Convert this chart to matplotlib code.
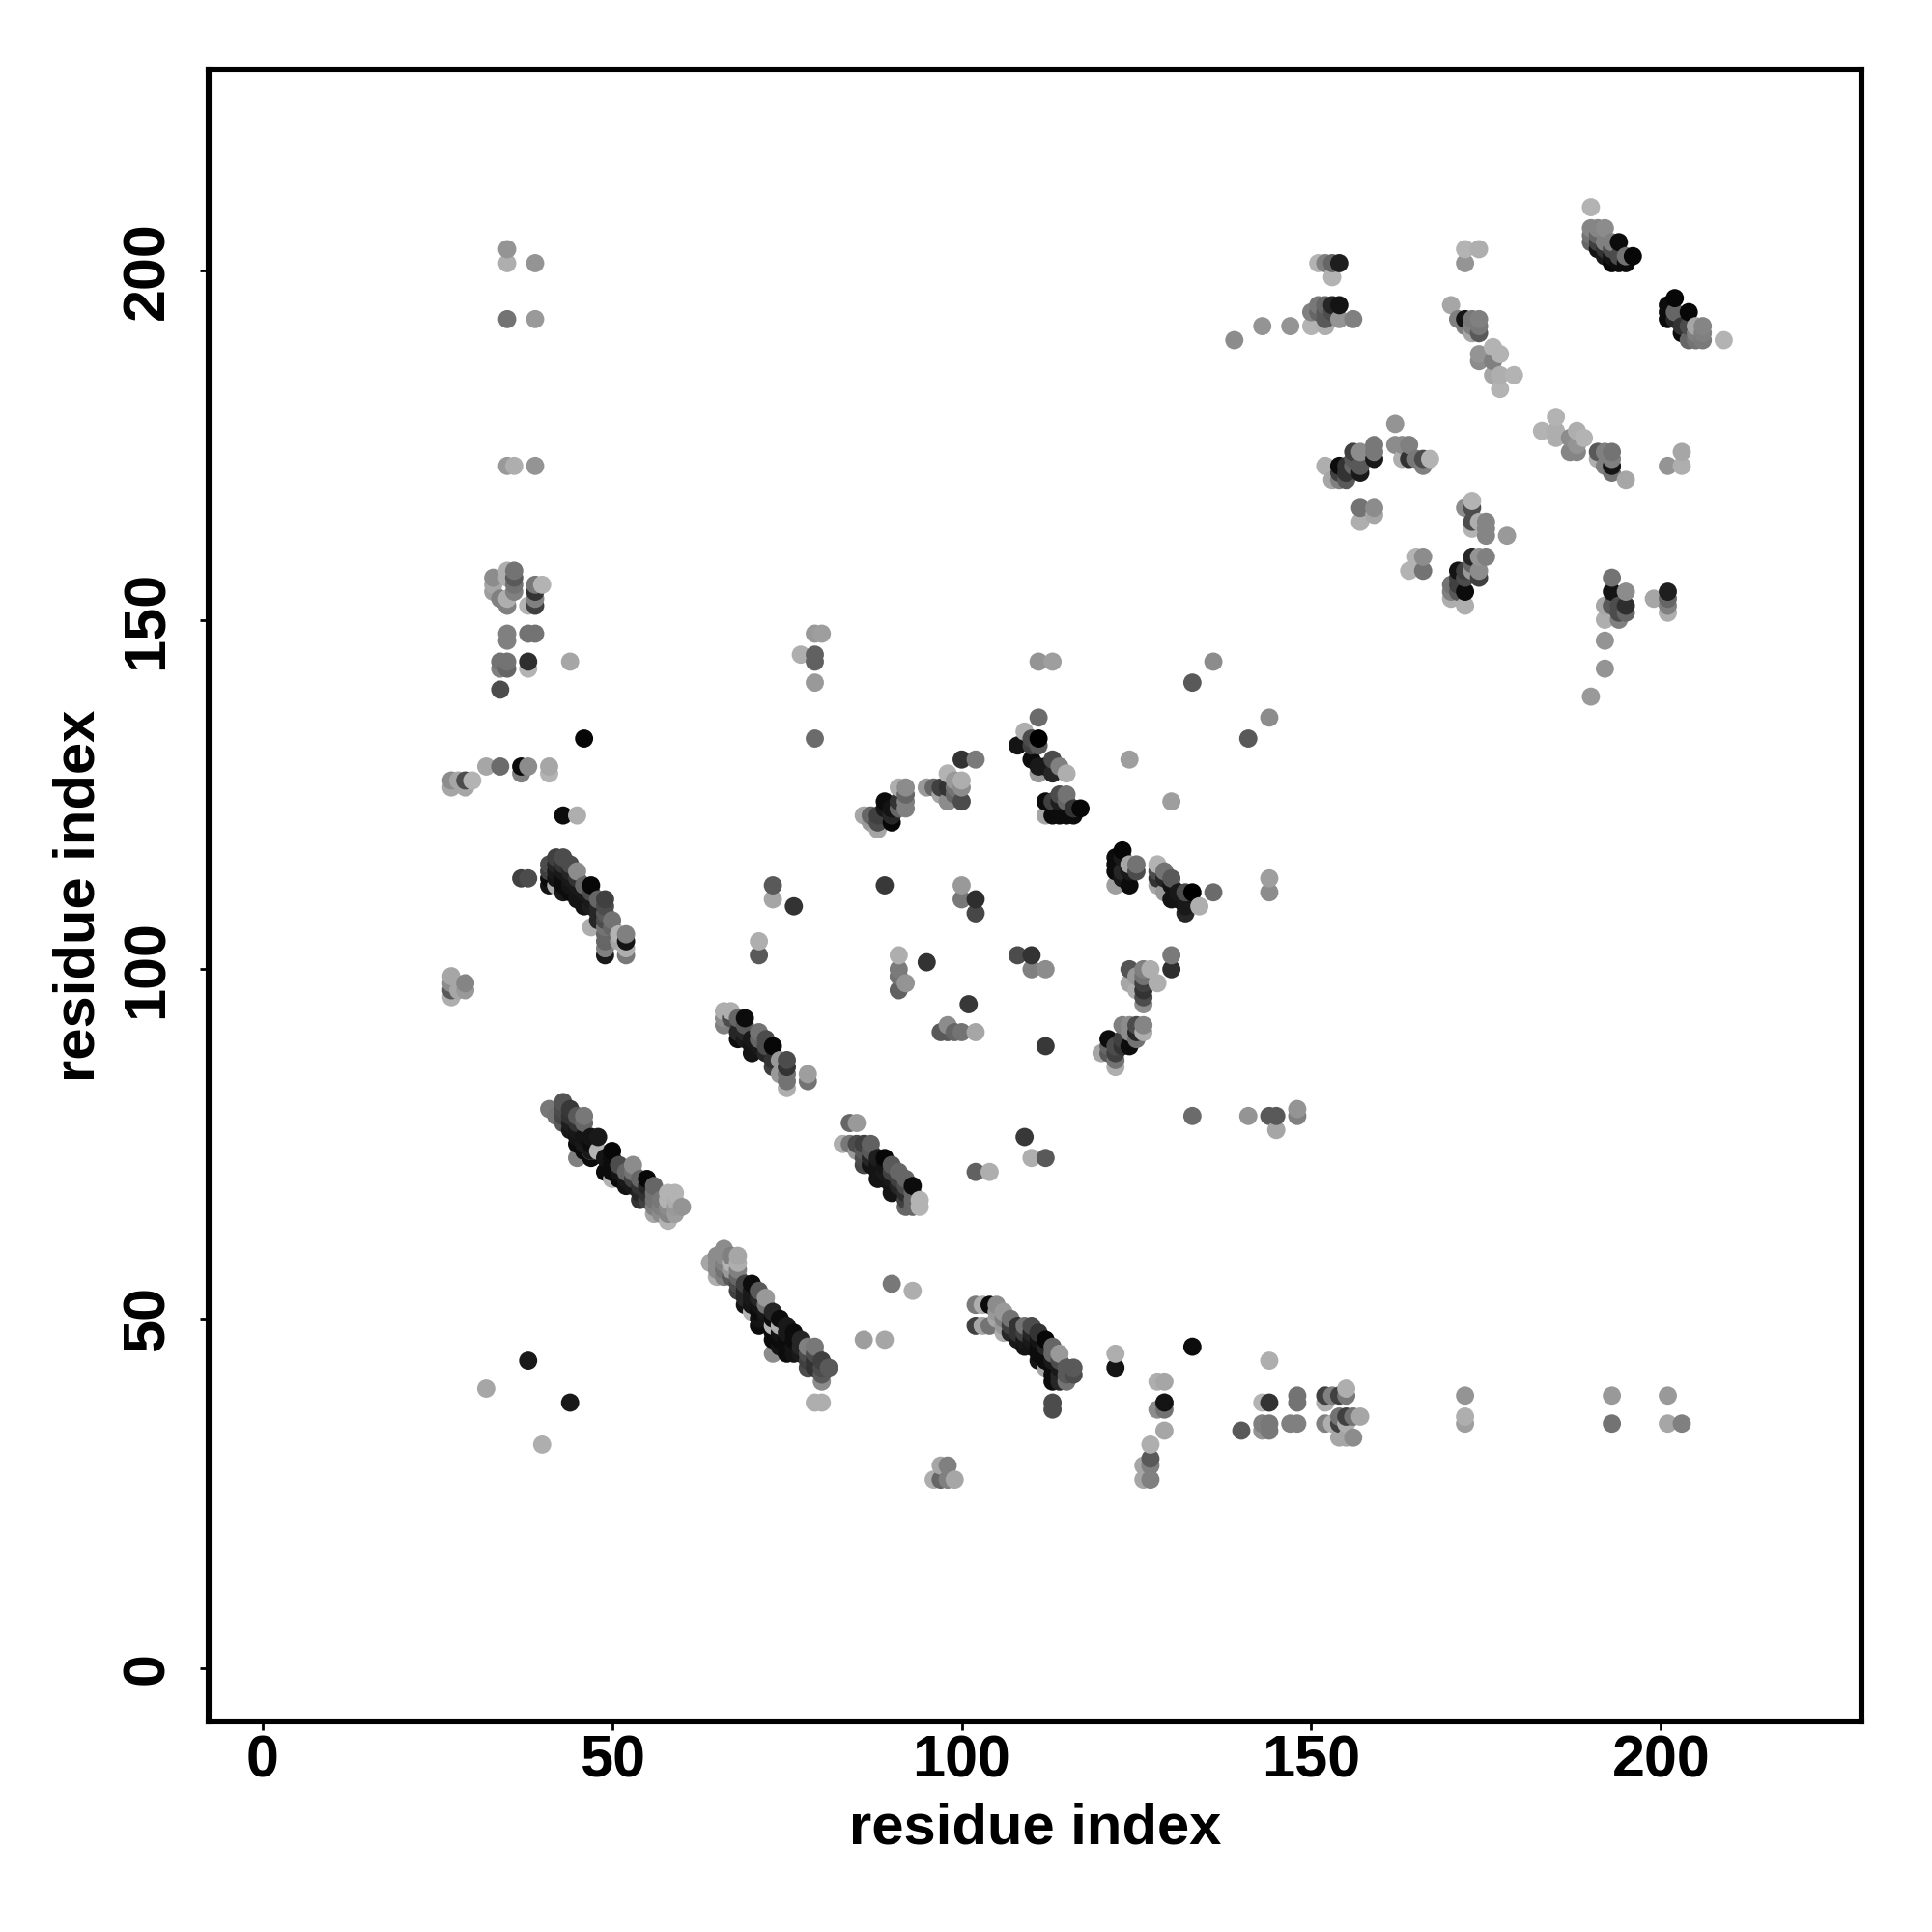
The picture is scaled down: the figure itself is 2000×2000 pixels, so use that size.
import numpy as np
import matplotlib
matplotlib.use("Agg")
import matplotlib.pyplot as plt

plt.rcParams['font.family'] = ['Liberation Sans', 'DejaVu Sans']
plt.rcParams['font.weight'] = 'bold'

# contacts: residue i, residue j, grey level in percent
res_i = [
    27,27,27,27,28,29,29,
    41,42,43,43,43,43,44,44,44,44,45,45,45,45,45,45,46,46,46,46,46,47,47,47,47,47,48,48,49,49,
    50,50,50,50,50,51,51,51,52,52,52,53,53,53,53,54,54,54,54,55,55,55,55,
    56,56,56,56,56,57,57,57,58,58,58,58,58,59,59,59,59,60,
    66,66,66,67,67,68,68,68,69,69,69,69,70,70,70,71,71,71,72,72,72,73,73,73,74,74,75,75,75,75,75,78,78,
    83,84,84,85,85,85,86,86,86,86,87,87,87,87,88,88,88,88,89,89,89,89,
    90,90,90,90,90,91,91,91,92,92,92,92,92,93,93,93,93,94,94,
    64,65,65,65,65,66,66,66,66,66,67,67,67,67,68,68,68,68,68,68,69,69,69,69,
    70,70,70,70,70,71,71,71,71,71,71,72,72,72,72,73,73,73,73,73,73,73,
    74,74,74,74,74,75,75,75,75,75,76,76,76,76,77,77,77,78,78,78,78,79,79,79,79,79,
    80,80,80,80,80,81,86,89,90,93,38,32,44,40,
    33,33,33,34,35,35,35,35,36,36,36,36,38,39,39,39,39,40,
    35,35,38,39,34,34,35,35,38,38,44,34,46,79,80,77,79,79,79,79,
    32,34,37,37,38,41,41,27,27,28,29,29,30,43,45,
    37,38,41,41,41,41,42,42,42,42,42,43,43,43,43,43,43,44,44,44,44,44,45,45,45,45,45,
    46,46,46,46,47,47,47,47,47,48,48,48,48,49,49,49,49,49,49,49,49,49,50,50,51,51,52,52,52,52,
    73,73,76,89,71,71,91,91,91,91,92,95,
    111,113,136,133,144,141,111,109,111,108,110,110,111,110,113,114,115,113,112,111,111,
    100,102,98,100,99,100,95,96,97,98,99,97,98,100,99,
    86,87,88,88,87,88,89,90,89,89,90,90,91,92,92,92,92,91,91,
    112,113,112,114,115,114,115,116,117,113,114,115,116,124,130,
    123,122,122,122,125,124,125,124,124,122,123,123,123,
    128,129,130,128,128,128,129,129,130,131,132,133,134,136,130,131,132,132,144,144,
    100,100,102,102,108,110,110,112,
    124,126,127,130,130,128,124,125,126,126,126,126,125,126,101,
    98,97,98,99,100,102,112,
    120,121,121,121,122,122,122,122,123,124,123,123,124,124,125,125,126,126,125,
    133,141,144,145,145,148,148,109,110,112,102,104,
    102,102,103,103,104,104,105,105,105,106,106,106,106,107,107,107,108,108,108,
    109,109,109,109,110,110,110,110,111,111,111,111,111,112,112,112,112,112,
    113,113,113,113,113,113,113,113,114,114,114,114,114,115,115,115,116,116,
    122,122,133,128,129,129,128,129,129,129,127,127,126,127,126,127,
    97,98,96,97,99,98,140,143,144,143,143,144,144,144,
    148,148,147,148,152,152,153,154,155,155,152,153,154,154,154,155,155,155,156,156,157,
    172,172,172,193,193,201,201,203,
    190,190,191,192,190,190,191,192,194,196,193,194,195,195,191,191,192,192,193,193,193,194,
    202,201,201,201,204,203,202,202,203,204,204,205,206,206,206,205,209,205,
    143,147,139,150,152,150,151,151,152,152,152,153,153,154,154,156,151,152,153,154,153,
    172,174,172,170,171,172,172,173,174,173,174,174,173,
    174,174,176,177,176,176,177,177,179,
    183,185,185,185,187,188,189,187,188,188,191,191,192,192,193,193,193,193,195,201,203,203,
    162,162,163,164,163,164,165,166,166,167,
    152,153,154,154,154,155,156,156,156,157,157,159,159,159,157,155,155,
    157,159,159,157,173,172,173,173,173,174,175,175,175,178,
    165,166,164,166,173,174,175,174,174,173,171,172,172,171,170,170,170,171,171,172,172,173,
    193,193,195,195,195,194,192,192,194,194,193,192,192,190,199,201,201,201,201,
    35,35,39,35,39,35,36,39,
]
res_j = [
    96,97,98,99,97,97,98,
    80,79,81,80,79,78,80,79,78,77,79,78,77,76,75,73,79,78,76,75,74,76,75,74,73,74,76,74,73,71,
    74,73,72,71,70,72,71,70,71,70,69,72,71,70,69,70,69,68,67,70,69,68,67,
    69,68,67,66,65,67,66,65,68,67,66,65,64,68,67,66,65,66,
    94,93,92,94,93,93,91,90,93,92,91,90,90,89,88,91,90,89,90,89,88,89,87,86,87,85,87,86,85,84,83,85,84,
    75,78,75,78,75,74,75,74,73,72,75,74,73,72,73,72,71,70,73,72,71,70,
    72,71,70,69,68,71,70,69,70,69,68,67,66,69,68,67,66,67,66,
    58,59,58,57,56,60,59,58,57,56,59,58,57,56,59,58,57,56,55,54,55,54,53,52,
    55,54,53,52,51,54,53,52,51,50,49,53,52,51,50,51,50,49,48,47,49,45,
    50,49,48,47,46,49,48,47,46,45,48,47,46,45,47,46,45,46,45,44,43,46,45,44,43,38,
    44,43,42,41,38,43,47,47,55,54,44,40,38,32,
    156,155,154,153,156,153,152,157,157,156,155,154,152,155,154,153,152,155,
    148,147,148,148,144,143,144,143,144,143,144,140,133,148,148,145,145,144,141,133,
    129,129,129,128,129,129,128,127,126,127,127,126,127,122,122,
    113,113,115,114,113,112,116,115,114,113,112,116,115,114,113,112,111,115,114,113,112,111,114,113,112,111,110,
    112,111,110,109,112,111,110,109,106,110,109,108,107,110,109,108,107,106,105,104,103,102,107,106,105,104,105,104,103,102,
    112,110,109,112,104,102,102,100,99,97,98,101,
    144,144,144,141,136,133,136,134,133,132,133,132,132,130,130,129,128,128,129,129,128,
    130,130,128,127,127,126,126,126,126,126,126,125,124,124,125,
    122,122,122,120,121,121,124,121,123,122,123,122,126,126,125,124,123,124,123,
    124,124,122,125,125,122,122,122,123,122,124,124,123,130,124,
    117,116,115,114,115,115,114,114,112,112,116,114,113,
    115,114,113,114,113,112,113,111,110,111,108,111,109,111,112,110,111,109,113,111,
    112,110,110,108,102,102,100,100,
    100,100,100,102,100,98,98,97,98,97,96,95,99,99,95,
    92,91,91,91,91,91,89,
    88,90,89,88,86,87,88,89,92,89,90,89,91,92,92,91,92,91,90,
    79,79,79,79,77,80,79,76,73,73,71,71,
    52,49,52,49,52,49,52,51,50,51,50,49,48,50,49,48,49,48,47,
    49,48,47,46,49,48,47,46,48,47,46,45,44,47,46,45,44,43,
    46,45,44,43,42,41,38,37,45,44,43,42,41,43,42,41,43,42,
    45,43,46,41,41,38,37,38,37,34,32,30,29,29,27,27,
    29,29,27,27,27,27,34,38,38,35,34,35,34,44,
    39,38,35,35,39,38,39,39,40,39,35,35,36,35,33,36,35,33,36,33,36,
    39,36,35,39,35,39,35,35,
    209,206,206,206,205,204,203,204,204,202,201,201,201,202,205,204,203,202,203,204,202,202,
    196,195,194,193,194,191,194,193,192,192,190,192,192,191,190,190,190,191,
    192,192,190,192,192,194,195,194,195,194,193,195,194,193,195,193,201,201,201,201,199,
    203,203,201,195,193,193,192,193,193,192,192,191,191,
    187,188,189,188,187,185,185,183,185,
    177,179,177,176,176,177,176,174,175,174,174,173,174,172,174,173,172,171,170,172,174,172,
    178,175,175,175,173,173,173,172,173,173,
    172,170,172,171,170,170,174,172,173,174,171,175,174,173,172,171,172,
    166,166,165,164,167,166,166,164,163,164,164,163,162,162,
    159,159,157,157,159,159,159,157,156,157,157,157,156,156,155,153,154,155,154,154,152,158,
    156,154,154,152,151,150,152,150,152,151,152,147,143,139,153,154,153,152,151,
    203,201,201,193,193,172,172,172,
]
shade = [
    68,35,55,65,65,60,52,
    47,45,33,30,28,35,22,20,12,10,35,20,10,8,5,50,47,40,8,10,5,8,5,70,5,10,10,70,8,5,
    3,5,5,5,70,30,8,5,40,10,8,55,45,25,10,40,20,15,20,3,15,20,25,
    40,45,45,50,65,47,50,55,70,70,55,52,70,70,68,60,62,58,
    68,55,50,68,30,40,15,5,5,35,15,10,10,8,8,45,40,10,30,30,15,3,20,25,60,60,30,20,45,45,68,62,45,
    68,40,47,60,30,60,25,35,30,28,38,35,15,8,12,8,8,8,3,8,10,8,
    35,25,10,8,8,40,25,15,40,30,18,25,40,5,40,40,40,70,70,
    65,55,55,55,68,55,55,50,45,50,50,70,60,35,65,68,50,40,30,25,25,15,15,8,
    5,10,10,8,70,35,15,8,5,8,5,60,45,10,8,15,5,5,5,5,70,55,
    5,68,8,5,8,10,10,5,5,5,5,5,8,8,15,15,10,50,30,25,30,47,30,20,20,68,
    25,30,35,55,68,35,62,65,47,68,10,65,10,68,
    55,65,62,50,68,68,50,68,45,35,45,50,70,47,20,50,25,70,
    50,50,45,45,45,50,45,40,18,70,65,30,3,60,62,68,38,38,60,42,
    65,42,5,50,55,65,70,55,65,65,30,65,70,5,68,
    25,30,30,25,5,8,25,15,10,8,68,30,20,10,5,5,10,30,15,10,8,5,55,20,10,8,8,
    40,10,8,8,3,30,10,12,68,40,15,15,15,25,30,35,30,45,40,40,50,10,45,40,70,65,50,8,68,47,
    35,65,20,22,68,35,68,48,45,38,58,20,
    58,62,55,35,55,35,42,68,0,8,30,25,35,5,30,50,68,15,10,10,60,
    20,48,70,68,60,55,60,40,25,20,45,65,55,30,40,
    65,40,25,65,60,30,5,3,10,25,8,15,68,55,40,50,50,20,40,
    5,25,65,30,45,5,5,5,3,5,12,40,20,62,62,
    3,5,5,5,45,65,30,10,5,62,10,15,10,
    70,45,35,30,20,65,15,60,8,10,15,0,68,42,8,8,30,10,62,55,
    60,47,18,28,30,20,50,55,
    33,50,68,48,18,68,65,68,25,20,30,55,60,45,22,
    55,35,35,40,45,65,22,
    65,5,40,35,68,45,25,30,50,5,25,20,55,55,30,15,52,68,45,
    42,58,35,35,65,58,50,22,68,35,38,68,
    48,25,68,65,5,45,55,60,65,60,50,60,68,45,25,15,20,20,10,
    45,25,10,8,30,15,10,8,20,8,5,5,8,3,15,5,5,65,
    40,40,10,5,5,5,30,30,60,30,10,15,15,35,35,45,35,30,
    68,8,5,68,65,55,55,8,45,65,68,35,65,50,65,50,
    65,50,68,40,65,50,35,70,20,50,58,47,47,68,
    45,45,50,50,25,68,50,25,68,47,50,68,45,25,65,25,68,65,45,55,65,
    58,68,62,60,45,60,65,50,
    70,52,52,55,45,40,8,50,5,3,3,5,5,45,40,25,20,10,30,50,8,30,
    3,5,5,5,3,5,40,15,20,30,40,65,52,50,48,45,70,50,
    58,58,55,70,68,50,47,40,40,35,35,15,30,58,8,50,70,50,40,12,70,
    70,68,58,65,50,8,50,47,50,50,47,35,65,
    55,58,70,70,50,65,68,70,70,
    70,70,68,68,55,68,70,52,58,52,35,68,50,50,45,50,8,45,65,58,65,68,
    58,55,55,50,68,20,47,50,30,70,
    68,65,5,25,50,35,25,40,35,55,10,47,47,10,35,20,20,
    45,55,65,68,70,55,30,30,70,68,52,52,52,60,
    70,55,70,45,15,58,50,55,25,60,8,25,30,25,45,68,50,25,35,5,68,40,
    45,8,55,18,40,50,65,68,30,30,35,58,58,60,65,12,40,50,68,
    58,68,58,45,60,60,68,58,
]

x = np.array(res_i)
y = np.array(res_j)
g = np.array(shade)

# later residues are drawn on top of earlier ones
order = np.lexsort((y, x))

fig, ax = plt.subplots(figsize=(10, 10), dpi=200)
ax.scatter(x[order], y[order], c=g[order], cmap='gray', vmin=0, vmax=100, s=46, linewidths=0)

ax.set_xlim(-7.7, 228.7)
ax.set_ylim(-7.6, 228.7)
ax.set_xticks([0, 50, 100, 150, 200])
ax.set_yticks([0, 50, 100, 150, 200])
ax.tick_params(axis='both', labelsize=22, width=1.0, length=3.2)
ax.tick_params(axis='x', pad=1.5)
ax.tick_params(axis='y', pad=9)
plt.setp(ax.get_yticklabels(), rotation=90, va='center')
for side in ax.spines.values():
    side.set_linewidth(2.2)

ax.set_xlabel("residue index", fontsize=21.5, fontweight='bold', labelpad=5)
ax.set_ylabel("residue index", fontsize=21.5, fontweight='bold', labelpad=5.5)

fig.subplots_adjust(left=0.108, right=0.9635, bottom=0.109, top=0.964)
fig.savefig("out.png", dpi=200)
plt.close(fig)
